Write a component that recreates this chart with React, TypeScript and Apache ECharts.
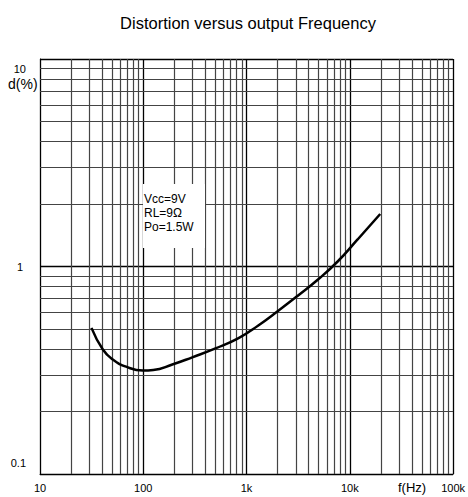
import React, { useEffect, useRef } from "react";
import * as echarts from "echarts";

const FONT = "'Liberation Sans', Arial, sans-serif";

// curve: frequency (Hz) vs distortion (%)
const freqHz = [31.5, 40.6, 50.7, 68.2, 98.9, 125, 191, 298, 500, 837, 1300, 2030, 3160, 4920, 7670, 11900, 19700];
const distPct = [0.506, 0.398, 0.356, 0.329, 0.315, 0.317, 0.337, 0.365, 0.403, 0.452, 0.52, 0.612, 0.725, 0.865, 1.06, 1.35, 1.79];

// axis extents and tick labels
const xMin = 10;
const xMax = 100000;
const yMin = 0.1;
const yMax = 10;
const xTickLabels: Record<string, string> = { "10": "10", "100": "100", "1000": "1k", "10000": "10k", "100000": "100k" };
const yTickLabels: Record<string, string> = { "0.1": "{lo|0.1}", "1": "{mid|1}", "10": "{hi|10}" };

// minor grid lines (2..9 within each decade)
const minorSteps = [2, 3, 4, 5, 6, 7, 8, 9];
const xDecades = [10, 100, 1000, 10000];
const yDecades = [0.1, 1];

const titleText = "Distortion versus output Frequency";
const yName = "d(%)";
const xName = "f(Hz)";
const noteLines = ["Vcc=9V", "RL=9Ω", "Po=1.5W"];

export default function App() {
  const ref = useRef<HTMLDivElement>(null);
  useEffect(() => {
    if (!ref.current) return;
    const chart = echarts.init(ref.current, null, { renderer: "svg" });
    const xMinor: any[] = [];
    xDecades.forEach((d) => minorSteps.forEach((s) => xMinor.push({ xAxis: d * s })));
    const yMinor: any[] = [];
    yDecades.forEach((d) => minorSteps.forEach((s) => yMinor.push({ yAxis: +(d * s).toFixed(3) })));
    const fmt = (map: Record<string, string>) => (v: number) => {
      const k = String(+Number(v).toPrecision(6));
      return map[k] ?? "";
    };
    const lbl = { fontFamily: FONT, fontSize: 11, color: "#000" };
    chart.setOption({
      animation: false,
      backgroundColor: "#fff",
      title: {
        text: titleText,
        left: 243,
        top: 9,
        textAlign: "center",
        textStyle: { fontFamily: FONT, fontSize: 16.5, fontWeight: "normal", color: "#000" },
      },
      grid: { left: 40, right: 12, top: 59, bottom: 23, containLabel: false },
      xAxis: {
        type: "log",
        logBase: 10,
        min: xMin,
        max: xMax,
        axisLine: { show: true, lineStyle: { color: "#000", width: 1 } },
        axisTick: { show: false },
        axisLabel: {
          formatter: fmt(xTickLabels),
          ...lbl,
          margin: 8,
        },
        splitLine: { show: true, lineStyle: { color: "#000", width: 1.3 } },
      },
      yAxis: {
        type: "log",
        logBase: 10,
        min: yMin,
        max: yMax,
        axisLine: { show: true, lineStyle: { color: "#000", width: 1 } },
        axisTick: { show: false },
        axisLabel: {
          formatter: fmt(yTickLabels),
          ...lbl,
          margin: 14,
          rich: {
            hi: { ...lbl, padding: [19, 0, 0, 0] },
            mid: { ...lbl, padding: [0, 3, 0, 0] },
            lo: { ...lbl, padding: [0, 0, 22, 0] },
          },
        },
        splitLine: { show: true, lineStyle: { color: "#000", width: 1.3 } },
      },
      graphic: [
        {
          type: "rect",
          shape: { x: 143, y: 184, width: 62, height: 64 },
          style: { fill: "#fff" },
          z: 100,
        },
        ...noteLines.map((t, i) => ({
          type: "text",
          x: 144,
          y: 193 + i * 14,
          style: { text: t, fontFamily: FONT, fontSize: 12, fill: "#000" },
          z: 101,
        })),
        {
          type: "text",
          x: 8,
          y: 77,
          style: { text: yName, fontFamily: FONT, fontSize: 14, fill: "#000" },
        },
        {
          type: "text",
          x: 398,
          y: 481,
          style: { text: xName, fontFamily: FONT, fontSize: 13, fill: "#000" },
        },
      ],
      series: [
        {
          type: "line",
          data: [],
          silent: true,
          markLine: {
            silent: true,
            symbol: ["none", "none"],
            label: { show: false },
            lineStyle: { color: "#444", width: 1.2, type: "solid" },
            emphasis: { disabled: true },
            data: [...xMinor, ...yMinor],
          },
        },
        {
          type: "line",
          data: freqHz.map((f, i) => [f, distPct[i]]),
          smooth: 0.5,
          showSymbol: false,
          symbol: "none",
          lineStyle: { color: "#000", width: 2.5 },
          z: 10,
        },
      ],
    });
    return () => chart.dispose();
  }, []);
  return <div ref={ref} style={{ position: "fixed", left: 0, top: 0, width: 468, height: 497 }} />;
}
